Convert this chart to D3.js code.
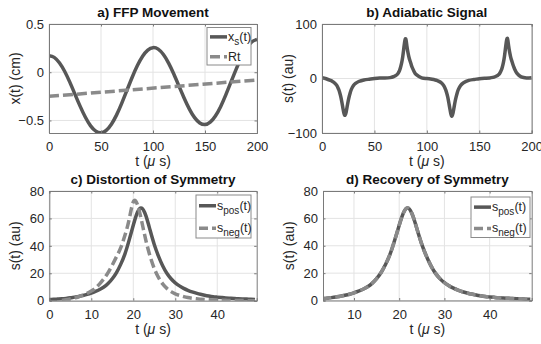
<!DOCTYPE html>
<html>
<head>
<meta charset="utf-8">
<script src="https://cdn.jsdelivr.net/npm/d3@7"></script>
<style>
  body { margin: 0; background: #fff; }
  svg { display: block; font-family: "Liberation Sans", Arial, sans-serif; }
</style>
</head>
<body>
<svg id="chart" width="541" height="344"></svg>
<script>
// a) FFP movement, sampled every 5 us
const tA = [0,5,10,15,20,25,30,35,40,45,50,55,60,65,70,75,80,85,90,95,100,
  105,110,115,120,125,130,135,140,145,150,155,160,165,170,175,180,185,190,195,200];
const xsA = [0.170,0.154,0.098,0.010,-0.103,-0.229,-0.354,-0.467,-0.556,-0.611,-0.628,
  -0.603,-0.539,-0.442,-0.320,-0.186,-0.052,0.069,0.166,0.230,0.255,
  0.239,0.183,0.095,-0.018,-0.144,-0.269,-0.382,-0.471,-0.526,-0.543,
  -0.518,-0.454,-0.357,-0.235,-0.101,0.033,0.154,0.251,0.315,0.340];
const tRt = [0, 200];
const rtA = [-0.25, -0.08];

// b) adiabatic signal
const tB = [0,4,8,10,12,14,15,16,17,18,19,20,21,22,23,24,25,26,27,28,30,32,35,40,45,50,55,60,
  65,68,70,72,73,74,75,76,77,78,79,80,81,82,83,84,85,86,88,90,95,100,
  105,108,110,112,114,116,117,118,119,120,121,122,123,124,125,126,127,128,129,130,132,135,140,145,150,155,
  160,163,165,167,168,169,170,171,172,173,174,175,176,177,178,179,180,181,182,183,184,186,190,195,200];
const sB = [1.5,-0.5,-3.5,-5.3,-8.2,-12.5,-16,-20.5,-26.5,-34,-44,-55,-64.5,-67.5,-62,-51.5,-41,-32.5,-25.5,-20,-13,-9,-5.5,-2.6,-1.4,-0.2,0.7,0.9,
  1.6,3.2,5,8,11,15,21,29,40,55,69,72,59,47.5,38.5,32,26,20.5,12.3,7,1.3,0,
  -1.4,-2.7,-3.9,-5.7,-8.4,-12.8,-16.3,-20.9,-27,-34.7,-44.9,-56.1,-65.8,-68.9,-63.2,-52.5,-41.8,-33.2,-26,-20.4,-13.3,-7.8,-3.5,-1.8,-0.3,0.5,
  1.0,2.0,3.2,5.1,6.4,8.1,11.1,15.2,21.2,29.3,40.4,55.6,69.7,72.7,59.6,48,38.9,32.3,26.3,20.7,16.2,9.3,2.9,1.0,1.5];

// c) distortion of symmetry
const tPos = d3.range(0, 50);
const sPos = [0.8,1.0,1.2,1.4,1.7,2.1,2.6,3.1,3.8,4.6,5.6,6.8,8.2,10,12.5,16,20.5,26.5,34,44,
  55,64.5,67.5,62,51.5,41,32.5,25.5,20,16,13,10.8,9,7.6,6.4,5.5,4.7,4.0,3.4,2.9,
  2.6,2.3,2.0,1.8,1.6,1.4,1.3,1.2,1.0,0.9];
const tNeg = d3.range(3, 50);
const sNeg = [0.2,0.7,1.3,2.0,2.9,4.0,5.3,7.0,9.2,12.3,16,20.5,26,32,38.5,47.5,59,72,70,58,
  44,32.5,23.5,17,12.3,9,6.6,5,3.9,3.0,2.3,1.8,1.4,1.1,0.85,0.65,0.5,0.4,0.3,0.25,
  0.2,0.15,0.1,0.08,0.05,0.03,0.02];

// d) recovery: both curves coincide with s_pos
const tRec = d3.range(3, 50);
const sPosRec = sPos.slice(3);
const sNegRec = sPos.slice(3);

const solidColor = '#575757';
const dashColor = '#8a8a8a';

const svg = d3.select('#chart');

const panels = [
  {
    id: 'a', title: 'a) FFP Movement', ylabel: 'x(t) (cm)',
    box: {left: 49, top: 24, right: 257, bottom: 133},
    xDomain: [0, 200], yDomain: [-0.63, 0.5],
    xTicks: [0, 50, 100, 150, 200], yTicks: [-0.5, 0, 0.5],
    series: [
      {t: tA, v: xsA, dash: null, color: solidColor},
      {t: tRt, v: rtA, dash: '10,4', color: dashColor}
    ],
    legend: {left: 207, top: 27.5, right: 251, bottom: 65,
      items: [{main: 'x', sub: 's', tail: '(t)'}, {main: 'Rt', sub: null, tail: ''}]}
  },
  {
    id: 'b', title: 'b) Adiabatic Signal', ylabel: 's(t) (au)',
    box: {left: 322, top: 24, right: 531.7, bottom: 133},
    xDomain: [0, 200], yDomain: [-100, 100],
    xTicks: [0, 50, 100, 150, 200], yTicks: [-100, 0, 100],
    series: [{t: tB, v: sB, dash: null, color: solidColor}],
    legend: null
  },
  {
    id: 'c', title: 'c) Distortion of Symmetry', ylabel: 's(t) (au)',
    box: {left: 49.3, top: 191, right: 256.7, bottom: 300.7},
    xDomain: [0, 49.4], yDomain: [0, 80],
    xTicks: [0, 10, 20, 30, 40], yTicks: [0, 20, 40, 60, 80],
    series: [
      {t: tPos, v: sPos, dash: null, color: solidColor},
      {t: tNeg, v: sNeg, dash: '9,4', color: dashColor}
    ],
    legend: {left: 196, top: 195, right: 251, bottom: 238,
      items: [{main: 's', sub: 'pos', tail: '(t)'}, {main: 's', sub: 'neg', tail: '(t)'}]}
  },
  {
    id: 'd', title: 'd) Recovery of Symmetry', ylabel: 's(t) (au)',
    box: {left: 323, top: 191, right: 531.7, bottom: 300.5},
    xDomain: [3.15, 49.3], yDomain: [0, 80],
    xTicks: [10, 20, 30, 40], yTicks: [0, 20, 40, 60, 80],
    series: [
      {t: tRec, v: sPosRec, dash: null, color: solidColor},
      {t: tRec, v: sNegRec, dash: '9,4', color: dashColor}
    ],
    legend: {left: 471, top: 197, right: 530, bottom: 237.5,
      items: [{main: 's', sub: 'pos', tail: '(t)'}, {main: 's', sub: 'neg', tail: '(t)'}]}
  }
];

panels.forEach(function(p) {
  const b = p.box;
  const w = b.right - b.left;
  const h = b.bottom - b.top;

  const x = d3.scaleLinear().domain(p.xDomain).range([0, w]);
  const y = d3.scaleLinear().domain(p.yDomain).range([h, 0]);

  const g = svg.append('g').attr('transform', 'translate(' + b.left + ',' + b.top + ')');

  svg.append('clipPath').attr('id', 'clip-' + p.id)
    .append('rect').attr('width', w).attr('height', h);

  // grid
  g.append('g').selectAll('line.gx').data(p.xTicks).enter().append('line')
    .attr('x1', (d) => x(d)).attr('x2', (d) => x(d)).attr('y1', 0).attr('y2', h)
    .attr('stroke', '#e3e3e3').attr('stroke-width', 1);
  g.append('g').selectAll('line.gy').data(p.yTicks).enter().append('line')
    .attr('x1', 0).attr('x2', w).attr('y1', (d) => y(d)).attr('y2', (d) => y(d))
    .attr('stroke', '#e3e3e3').attr('stroke-width', 1);

  // lines
  const line = d3.line().x((d) => x(d[0])).y((d) => y(d[1])).curve(d3.curveNatural);
  const lines = g.append('g').attr('clip-path', 'url(#clip-' + p.id + ')');
  p.series.forEach(function(s) {
    lines.append('path')
      .datum(s.t.map((t, i) => [t, s.v[i]]))
      .attr('d', line)
      .attr('fill', 'none')
      .attr('stroke', s.color)
      .attr('stroke-width', 3.5)
      .attr('stroke-dasharray', s.dash);
  });

  // axes
  const xAxis = g.append('g').attr('transform', 'translate(0,' + h + ')')
    .call(d3.axisBottom(x).tickValues(p.xTicks).tickSize(-2.5).tickPadding(6).tickFormat(d3.format('')));
  const yAxis = g.append('g')
    .call(d3.axisLeft(y).tickValues(p.yTicks).tickSize(-2.5).tickPadding(5).tickFormat(d3.format('')));
  g.append('g').call(d3.axisTop(x).tickValues(p.xTicks).tickSize(-2.5).tickFormat(''));
  g.append('g').attr('transform', 'translate(' + w + ',0)')
    .call(d3.axisRight(y).tickValues(p.yTicks).tickSize(-2.5).tickFormat(''));

  g.selectAll('.domain').attr('stroke', '#7a7a7a');
  g.selectAll('.tick line').attr('stroke', '#7a7a7a');
  [xAxis, yAxis].forEach(function(a) {
    a.selectAll('.tick text').attr('fill', '#262626').style('font-size', '13px')
      .style('font-family', '"Liberation Sans", Arial, sans-serif');
  });
  xAxis.selectAll('.tick text').attr('dy', '0.95em');

  // title
  svg.append('text')
    .attr('x', b.left + w / 2).attr('y', b.top - 7)
    .attr('text-anchor', 'middle')
    .attr('font-weight', 'bold').attr('font-size', 13.5).attr('fill', '#111')
    .text(p.title);

  // x label
  const xl = svg.append('text')
    .attr('x', b.left + w / 2).attr('y', b.bottom + 33)
    .attr('text-anchor', 'middle').attr('font-size', 14).attr('fill', '#262626');
  xl.append('tspan').text('t (');
  xl.append('tspan').attr('font-style', 'italic').text('\u03bc');
  xl.append('tspan').text(' s)');

  // y label
  svg.append('text')
    .attr('transform', 'translate(' + (b.left - 29) + ',' + (b.top + h / 2) + ') rotate(-90)')
    .attr('text-anchor', 'middle').attr('font-size', 14).attr('fill', '#262626')
    .text(p.ylabel);

  // legend
  if (p.legend) {
    const L = p.legend;
    svg.append('rect')
      .attr('x', L.left).attr('y', L.top)
      .attr('width', L.right - L.left).attr('height', L.bottom - L.top)
      .attr('fill', '#fff').attr('stroke', '#8a8a8a').attr('stroke-width', 1);
    const rowH = (L.bottom - L.top) / 2;
    L.items.forEach(function(it, i) {
      const s = p.series[i];
      const cy = L.top + rowH * (i + 0.5) + (i === 0 ? 0 : 1);
      svg.append('line')
        .attr('x1', L.left + 3).attr('x2', L.left + 20)
        .attr('y1', cy).attr('y2', cy)
        .attr('stroke', s.color).attr('stroke-width', 3.5)
        .attr('stroke-dasharray', s.dash);
      const tx = svg.append('text')
        .attr('x', L.left + 21).attr('y', cy + 4)
        .attr('font-size', 12.5).attr('fill', '#262626');
      tx.append('tspan').text(it.main);
      if (it.sub) {
        tx.append('tspan').attr('dy', 4).attr('font-size', 10).text(it.sub);
        tx.append('tspan').attr('dy', -4).text(it.tail);
      } else {
        tx.append('tspan').text(it.tail);
      }
    });
  }
});
</script>
</body>
</html>
